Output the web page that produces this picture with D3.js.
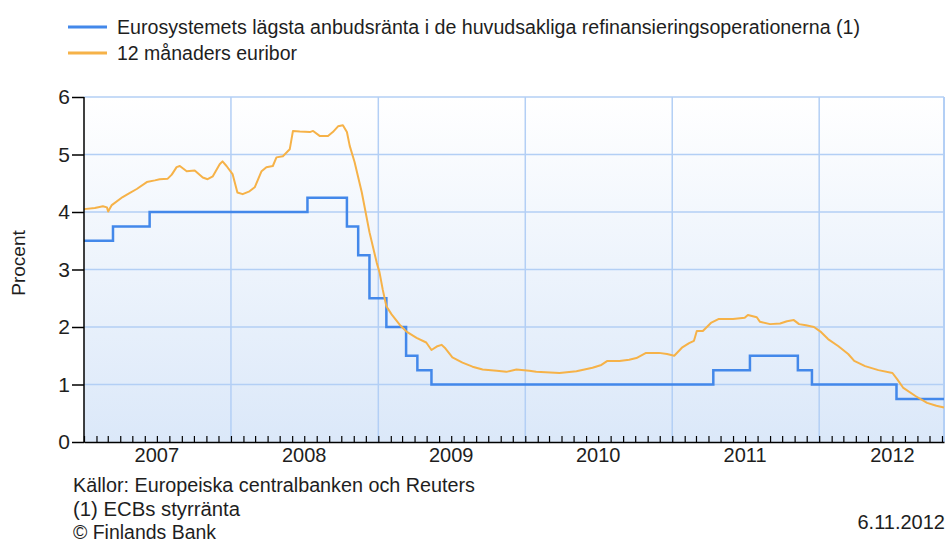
<!DOCTYPE html>
<html><head><meta charset="utf-8">
<script src="https://cdn.jsdelivr.net/npm/d3@7"></script>
<style>
html,body{margin:0;padding:0;background:#fff;}
svg{display:block;font-family:"Liberation Sans",Arial,sans-serif;}
</style></head>
<body><svg id="c" width="950" height="543"></svg>
<script>
const seriesNames = ["Eurosystemets lägsta anbudsränta i de huvudsakliga refinansieringsoperationerna (1)", "12 månaders euribor"];
const yTicks = [0,1,2,3,4,5,6];
const yearLabels = ["2007","2008","2009","2010","2011","2012"];
const footerLines = ["Källor: Europeiska centralbanken och Reuters","(1) ECBs styrränta","© Finlands Bank"];
const dateLabel = "6.11.2012";
const yLabel = "Procent";

// ECB main refinancing rate (change dates)
const ecbDates = ["2007-01-01","2007-03-14","2007-06-13","2008-07-09","2008-10-15","2008-11-12","2008-12-10","2009-01-21","2009-03-11","2009-04-08","2009-05-13","2011-04-13","2011-07-13","2011-11-09","2011-12-14","2012-07-11","2012-11-06"];
const ecbValues = [3.50,3.75,4.00,4.25,3.75,3.25,2.50,2.00,1.50,1.25,1.00,1.25,1.50,1.25,1.00,0.75,0.75];

// 12-month euribor
const euriborDates = ["2007-01-01","2007-01-28","2007-02-17","2007-02-27","2007-03-02","2007-03-11","2007-04-07","2007-04-24","2007-05-12","2007-06-06","2007-06-26","2007-07-08","2007-07-28","2007-08-07","2007-08-19","2007-08-27","2007-09-13","2007-10-03","2007-10-23","2007-11-04","2007-11-17","2007-12-04","2007-12-11","2007-12-21",
"2008-01-05","2008-01-17","2008-01-30","2008-02-16","2008-02-29","2008-03-17","2008-03-29","2008-04-14","2008-04-23","2008-05-09","2008-05-26","2008-06-03","2008-06-20","2008-07-15","2008-07-23","2008-08-09","2008-08-29","2008-09-10","2008-09-23","2008-10-05","2008-10-15","2008-10-22","2008-11-03","2008-11-21","2008-12-10","2008-12-28",
"2009-01-04","2009-01-12","2009-01-21","2009-02-03","2009-02-23","2009-03-12","2009-04-06","2009-04-30","2009-05-13","2009-05-26","2009-06-07","2009-06-15","2009-07-04","2009-07-29","2009-08-23","2009-09-17","2009-10-22","2009-11-15","2009-12-10",
"2010-01-11","2010-01-28","2010-03-27","2010-05-08","2010-06-17","2010-07-09","2010-07-24","2010-08-23","2010-09-16","2010-10-04","2010-10-28","2010-11-29","2010-12-19",
"2011-01-06","2011-01-25","2011-02-12","2011-02-24","2011-03-03","2011-03-18","2011-04-07","2011-04-27","2011-06-01","2011-06-30","2011-07-08","2011-07-30","2011-08-07","2011-09-01","2011-09-26","2011-10-13","2011-10-30","2011-11-12","2011-11-29","2011-12-19",
"2012-01-06","2012-01-23","2012-02-17","2012-03-13","2012-03-28","2012-04-24","2012-05-27","2012-07-01","2012-07-13","2012-07-28","2012-08-27","2012-09-25","2012-10-18","2012-11-06"];
const euriborValues = [4.05,4.07,4.10,4.08,4.01,4.12,4.26,4.33,4.40,4.52,4.55,4.57,4.58,4.65,4.78,4.80,4.71,4.72,4.60,4.57,4.62,4.83,4.88,4.80,
4.66,4.34,4.31,4.36,4.43,4.71,4.78,4.80,4.95,4.97,5.09,5.41,5.40,5.39,5.41,5.32,5.32,5.39,5.49,5.51,5.39,5.15,4.87,4.34,3.65,3.12,
2.95,2.65,2.36,2.22,2.04,1.92,1.81,1.73,1.60,1.66,1.69,1.64,1.47,1.38,1.31,1.26,1.24,1.22,1.26,
1.24,1.22,1.20,1.23,1.29,1.34,1.41,1.41,1.43,1.46,1.55,1.55,1.53,
1.50,1.64,1.72,1.76,1.93,1.93,2.07,2.14,2.14,2.16,2.21,2.17,2.09,2.05,2.06,2.10,2.12,2.05,2.03,2.00,
1.91,1.79,1.67,1.53,1.41,1.32,1.25,1.20,1.09,0.94,0.80,0.68,0.63,0.60];

const colors = {ecb:"#4388ea", eur:"#f6b248", grid:"#b3cff5", text:"#1e1e1e"};
const parse = d3.timeParse("%Y-%m-%d");
const ecb = ecbDates.map((d,i)=>({date:parse(d), v:ecbValues[i]}));
const eur = euriborDates.map((d,i)=>({date:parse(d), v:euriborValues[i]}));

const svg = d3.select("#c");
const L=84, R=944, T=97, B=442;
const x = d3.scaleTime().domain([parse("2007-01-01"), parse("2012-11-06")]).range([L,R]);
const y = d3.scaleLinear().domain([0,6]).range([B,T]);

const defs = svg.append("defs");
const grad = defs.append("linearGradient").attr("id","bg").attr("x1",0).attr("y1",0).attr("x2",0).attr("y2",1);
grad.append("stop").attr("offset","0%").attr("stop-color","#ffffff");
grad.append("stop").attr("offset","100%").attr("stop-color","#dbe8f9");
svg.append("rect").attr("x",L).attr("y",T).attr("width",R-L).attr("height",B-T).attr("fill","url(#bg)");

// gridlines
svg.append("g").selectAll("line").data(yTicks.filter(d=>d>0)).join("line")
  .attr("x1",L).attr("x2",R).attr("y1",d=>y(d)).attr("y2",d=>y(d))
  .attr("stroke",colors.grid).attr("stroke-width",1.5);
const yearStarts = d3.timeYear.range(parse("2008-01-01"), parse("2012-12-31"));
svg.append("g").selectAll("line").data(yearStarts).join("line")
  .attr("x1",d=>x(d)).attr("x2",d=>x(d)).attr("y1",T).attr("y2",B)
  .attr("stroke",colors.grid).attr("stroke-width",1.5);
svg.append("line").attr("x1",R).attr("x2",R).attr("y1",T).attr("y2",B).attr("stroke",colors.grid).attr("stroke-width",2);

// series
const lineStep = d3.line().x(d=>x(d.date)).y(d=>y(d.v)).curve(d3.curveStepAfter);
const lineEur = d3.line().x(d=>x(d.date)).y(d=>y(d.v));
svg.append("path").datum(ecb).attr("d",lineStep).attr("fill","none").attr("stroke",colors.ecb).attr("stroke-width",2.5);
svg.append("path").datum(eur).attr("d",lineEur).attr("fill","none").attr("stroke",colors.eur).attr("stroke-width",2).attr("stroke-linejoin","round");

// axes
const yAxis = svg.append("g").attr("transform",`translate(${L},0)`)
  .call(d3.axisLeft(y).tickValues(yTicks).tickSize(12).tickPadding(2).tickFormat(d3.format("d")));
yAxis.select(".domain").remove();
yAxis.selectAll("line").attr("stroke","#000").attr("stroke-width",1.5);
yAxis.selectAll("text").attr("font-size",21).attr("fill",colors.text).attr("font-family","'Liberation Sans',Arial,sans-serif");
svg.append("line").attr("x1",L).attr("x2",L).attr("y1",T).attr("y2",B+1).attr("stroke","#000").attr("stroke-width",1.5);

const xAxis = svg.append("g").attr("transform",`translate(0,${B})`)
  .call(d3.axisBottom(x).ticks(d3.timeMonth.every(1)).tickSizeInner(-6).tickSizeOuter(0).tickFormat(""));
xAxis.select(".domain").attr("stroke","#000").attr("stroke-width",1.5);
xAxis.selectAll("line").attr("stroke","#000").attr("stroke-width",1.2);

svg.append("g").selectAll("text").data(yearLabels).join("text")
  .attr("x",d=>x(parse(d+"-07-01"))).attr("y",462).attr("text-anchor","middle")
  .attr("font-size",20).attr("fill",colors.text).text(d=>d);

svg.append("text").attr("transform","translate(25,263) rotate(-90)").attr("text-anchor","middle")
  .attr("font-size",19).attr("fill",colors.text).text(yLabel);

// legend
const leg = svg.append("g");
const legW = [743,180];
[colors.ecb, colors.eur].forEach((c,i)=>{
  const yy = 27 + i*26;
  leg.append("line").attr("x1",68).attr("x2",107).attr("y1",yy).attr("y2",yy).attr("stroke",c).attr("stroke-width",3);
  leg.append("text").attr("x",117).attr("y",yy+7).attr("font-size",20).attr("fill",colors.text)
    .attr("textLength",legW[i]).attr("lengthAdjust","spacingAndGlyphs").text(seriesNames[i]);
});

// footer
const footW = [402,167,143];
footerLines.forEach((t,i)=>{
  svg.append("text").attr("x",73).attr("y",492+i*23.5).attr("font-size",20).attr("fill",colors.text)
    .attr("textLength",footW[i]).attr("lengthAdjust","spacingAndGlyphs").text(t);
});
svg.append("text").attr("x",945).attr("y",529).attr("text-anchor","end").attr("font-size",20).attr("fill",colors.text).text(dateLabel);
</script></body></html>
